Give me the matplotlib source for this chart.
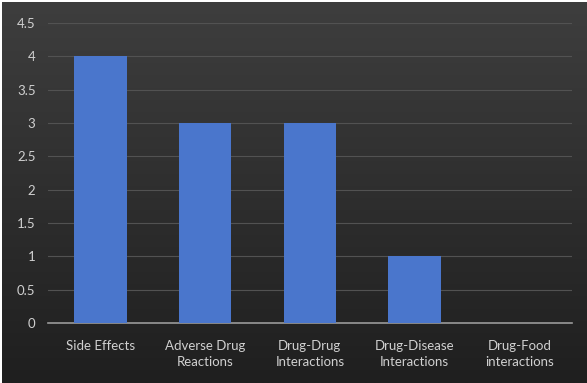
import numpy as np
import matplotlib.pyplot as plt

categories = ["Side Effects", "Adverse Drug\nReactions", "Drug-Drug\nInteractions",
              "Drug-Disease\nInteractions", "Drug-Food\ninteractions"]
values = [4, 3, 3, 1, 0]
yticks = [0, 0.5, 1, 1.5, 2, 2.5, 3, 3.5, 4, 4.5]
ytick_labels = ["0", "0.5", "1", "1.5", "2", "2.5", "3", "3.5", "4", "4.5"]

plt.rcParams['font.family'] = ['Lato', 'DejaVu Sans']

fig = plt.figure(figsize=(5.87, 3.83), dpi=100, facecolor='white')

# dark gradient background, thin white border at left/top
bg = fig.add_axes([0.004, 0.0, 0.996, 0.995], zorder=0)
grad = np.linspace(0, 1, 256).reshape(-1, 1)
bg.imshow(grad, aspect='auto', cmap=plt.matplotlib.colors.LinearSegmentedColormap.from_list(
    'bg', ['#3e3e3e', '#1f1f1f']), extent=[0, 1, 0, 1], origin='upper')
bg.axis('off')

ax = fig.add_axes([0.0818, 0.1567, 0.892, 0.7833], zorder=1)
ax.set_facecolor('none')

x = np.arange(len(categories))
ax.bar(x, values, width=0.5, color='#4a76cc', zorder=3)

ax.set_ylim(0, 4.5)
ax.set_xlim(-0.5, len(categories) - 0.5)
ax.set_yticks(yticks)
ax.set_yticklabels(ytick_labels)
ax.set_xticks(x)
ax.set_xticklabels(categories, linespacing=1.45)
ax.grid(axis='y', color='#525252', linewidth=0.8, zorder=0)
ax.tick_params(axis='both', length=0, colors='#d0d0d0', labelsize=9.5)
ax.tick_params(axis='x', pad=12)
ax.tick_params(axis='y', pad=9)

for s in ['top', 'right', 'left']:
    ax.spines[s].set_visible(False)
ax.spines['bottom'].set_color('#9a9a9a')
ax.spines['bottom'].set_linewidth(1.2)

fig.savefig('out.png', dpi=100, facecolor='white')
